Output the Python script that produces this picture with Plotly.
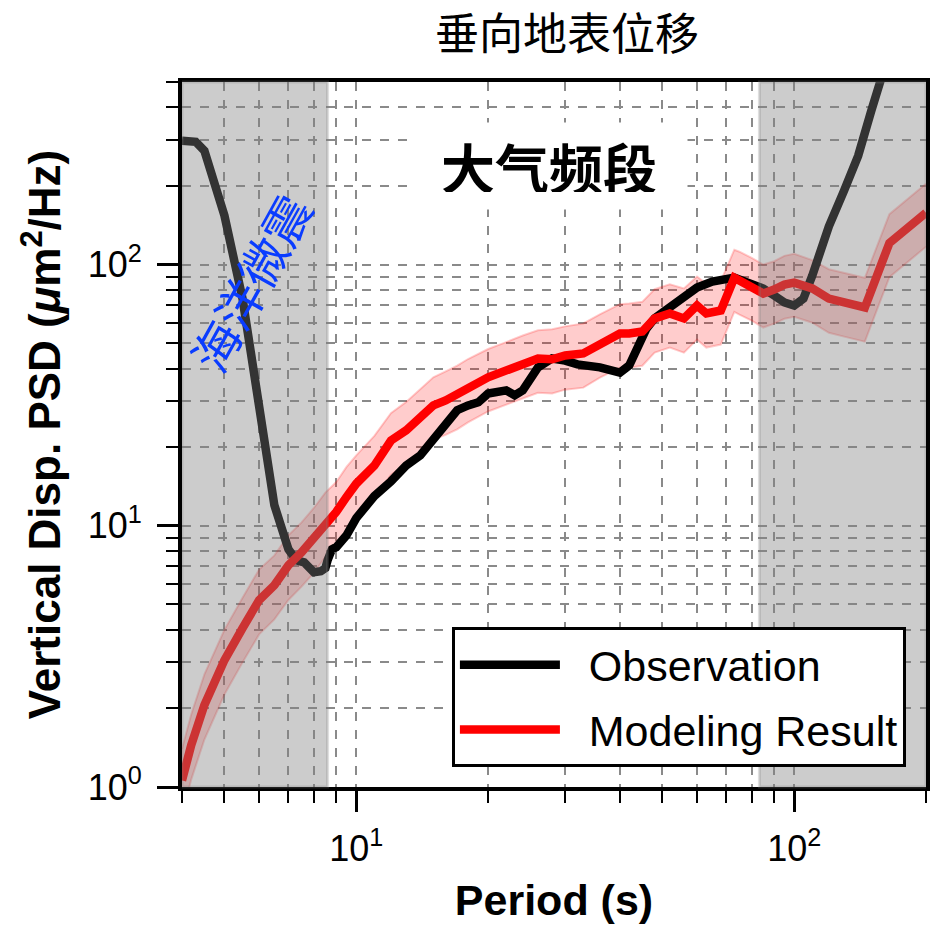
import numpy as np
import plotly.graph_objects as go

# ---------------- data ----------------
obs_period = [4, 4.3, 4.5, 4.7, 5, 5.5, 6, 6.5, 7, 7.3, 7.6, 8, 8.3, 8.5, 8.6, 8.8, 9, 9.5, 10,
              11, 12, 13, 14, 15, 16, 17, 18, 19, 20, 22, 23, 24, 26, 28, 30, 32, 36, 38, 40,
              42, 44, 46, 48, 50, 55, 60, 65, 70, 73, 77, 80, 85, 90, 95, 100, 105, 110, 120,
              130, 140, 150, 160]
obs_psd = [298, 295, 273, 219, 154, 74, 30.2, 12.0, 8.13, 7.38, 7.25, 6.64, 6.7, 6.88, 7.38, 8.13,
           8.28, 9.2, 10.7, 13.0, 14.8, 17.0, 18.6, 21.6, 24.2, 27.7, 28.9, 29.7, 32.1, 33.0,
           31.6, 33.0, 40.4, 43.7, 42.9, 41.5, 40.4, 39.3, 38.6, 41.1, 47.7, 56.9, 62.2, 65.5,
           74.8, 81.7, 86.1, 88.4, 89.2, 86.1, 83.8, 81.0, 76.1, 71.6, 69.7, 74.1, 90.8, 140,
           192, 261, 388, 552]

mod_period = [4, 4.2, 4.5, 5, 5.5, 6, 6.5, 7, 7.5, 8, 8.5, 9, 9.5, 10, 11, 12, 13, 14, 15, 16,
              17, 18, 20, 22, 24, 26, 28, 30, 33, 36, 40, 42, 45, 48, 52, 56, 60, 63, 68, 73,
              75, 80, 85, 90, 95, 100, 110, 120, 130, 145, 165, 200]
mod_psd = [1.06, 1.45, 2.06, 3.06, 4.06, 5.19, 5.92, 7.06, 7.92, 8.96, 10.3, 11.3, 12.9, 14.5,
           17.0, 21.2, 23.2, 25.8, 28.9, 30.2, 31.6, 33.6, 37.0, 39.3, 41.8, 43.7, 43.4, 44.9,
           45.7, 49.9, 54.5, 54.5, 55.4, 62.2, 65.0, 62.2, 69.7, 65.0, 66.7, 89.0, 86.9, 82.4,
           77.5, 80.2, 83.8, 85.3, 81.0, 74.1, 71.6, 68.5, 121, 158]
mod_upper = [1.4, 1.9, 2.7, 4.0, 5.3, 6.8, 7.7, 9.2, 10.3, 11.7, 13.4, 14.7, 16.8, 18.6, 22.1,
             27.0, 29.8, 33.2, 37.0, 39.0, 41.0, 43.5, 47.5, 50.5, 53.5, 56.0, 56.5, 58.0, 59.5,
             64.5, 70.5, 71.0, 72.0, 80.5, 84.0, 81.0, 90.0, 84.5, 86.5, 114, 112, 106, 100,
             103, 108, 110, 104, 96, 93, 89, 156, 204]
mod_lower = [0.78, 1.07, 1.52, 2.26, 3.0, 3.84, 4.38, 5.2, 5.85, 6.6, 7.6, 8.35, 9.5, 10.6,
             12.6, 15.7, 17.2, 19.1, 21.4, 22.3, 23.4, 24.9, 27.4, 29.1, 30.9, 32.3, 32.1, 33.2,
             33.8, 36.9, 40.3, 40.3, 41.0, 46.0, 48.1, 46.0, 51.6, 48.1, 49.4, 65.9, 64.3, 61.0,
             57.4, 59.4, 62.0, 63.1, 59.9, 54.8, 53.0, 50.7, 89.5, 117]

x_range = [4, 200]
y_range = [1, 500]
microseism_band = [4, 8.6]
long_period_band = [83.3, 200]

x_major = [10, 100]
x_major_text = ["10<sup>1</sup>", "10<sup>2</sup>"]
x_minor = [4, 5, 6, 7, 8, 9, 20, 30, 40, 50, 60, 70, 80, 90, 200]
y_major = [1, 10, 100]
y_major_text = ["10<sup>0</sup>", "10<sup>1</sup>", "10<sup>2</sup>"]
y_minor = [2, 3, 4, 5, 6, 7, 8, 9, 20, 30, 40, 50, 60, 70, 80, 90, 200, 300, 400, 500]

NB = "\u00a0\u00a0"

# ---------------- figure ----------------
fig = go.Figure()

fig.add_trace(go.Scatter(x=mod_period, y=mod_lower, mode="lines",
                         line=dict(color="rgba(255,0,0,0.2)", width=2),
                         showlegend=False, hoverinfo="skip", legendgroup="band"))
fig.add_trace(go.Scatter(x=mod_period, y=mod_upper, mode="lines",
                         line=dict(color="rgba(255,0,0,0.2)", width=2),
                         fill="tonexty", fillcolor="rgba(255,0,0,0.2)",
                         showlegend=False, hoverinfo="skip", legendgroup="band"))
fig.add_trace(go.Scatter(x=obs_period, y=obs_psd, mode="lines", name=NB + "Observation",
                         line=dict(color="black", width=8.5), legendrank=1, legendgroup="obs"))
fig.add_trace(go.Scatter(x=mod_period, y=mod_psd, mode="lines", name=NB + "Modeling Result",
                         line=dict(color="#ff0000", width=8.5), legendrank=2, legendgroup="mod"))

for band in (microseism_band, long_period_band):
    fig.add_shape(type="rect", xref="x", yref="paper", x0=band[0], x1=band[1], y0=0, y1=1,
                  fillcolor="rgba(128,128,128,0.4)", line=dict(width=3, color="rgba(128,128,128,0.25)"),
                  layer="above")

axis_common = dict(
    type="log", showline=True, linecolor="black", linewidth=4, mirror=True,
    ticks="outside", ticklen=21, tickwidth=3, tickcolor="black",
    showgrid=True, gridcolor="#8a8a8a", gridwidth=1.5, griddash="dash",
    tickfont=dict(family="Liberation Sans, Arial", size=36, color="black"),
    zeroline=False,
)

fig.update_xaxes(
    **axis_common,
    range=[np.log10(x_range[0]), np.log10(x_range[1])],
    tickmode="array", tickvals=x_major, ticktext=x_major_text,
    minor=dict(tickmode="array", tickvals=x_minor, ticks="outside", ticklen=12, tickwidth=2,
               tickcolor="black", showgrid=True, gridcolor="#8a8a8a", gridwidth=1.5,
               griddash="dash"),
    title=dict(text="<b>Period (s)</b>", standoff=18,
               font=dict(family="Liberation Sans, Arial", size=43, color="black")),
    ticklabelstandoff=6,
)
fig.update_yaxes(
    **axis_common,
    range=[np.log10(y_range[0]), np.log10(y_range[1])],
    tickmode="array", tickvals=y_major, ticktext=y_major_text,
    minor=dict(tickmode="array", tickvals=y_minor, ticks="outside", ticklen=12, tickwidth=2,
               tickcolor="black", showgrid=True, gridcolor="#8a8a8a", gridwidth=1.5,
               griddash="dash"),
    title=dict(text="<b>Vertical Disp. PSD (<i>μ</i>m<sup>2</sup>/Hz)</b>", standoff=14,
               font=dict(family="Liberation Sans, Arial", size=44, color="black")),
    ticklabelstandoff=8,
)

fig.add_annotation(x=np.log10(27.5), y=np.log10(239), xref="x", yref="y",
                   text="<b>大气频段</b>", showarrow=False,
                   font=dict(family="Noto Sans CJK SC", size=54, color="black"),
                   bgcolor="white", borderpad=17, width=242, height=52)
fig.add_annotation(x=np.log10(5.7), y=np.log10(86), xref="x", yref="y",
                   text="海洋微震", showarrow=False, textangle=-61,
                   font=dict(family="Noto Sans CJK SC", size=48, color="#0a3cff"))

fig.update_layout(
    width=939, height=932,
    margin=dict(l=182, r=9, t=82, b=145),
    paper_bgcolor="white", plot_bgcolor="white",
    title=dict(text="垂向地表位移", x=567 / 939, y=1 - 35 / 932, xref="container",
               yref="container", xanchor="center", yanchor="middle",
               font=dict(family="Noto Sans CJK SC", size=44, color="black")),
    legend=dict(x=0.973, y=0.028, xanchor="right", yanchor="bottom",
                bgcolor="white", bordercolor="black", borderwidth=3,
                font=dict(family="Liberation Sans, Arial", size=43, color="black"),
                itemwidth=100, traceorder="grouped", tracegroupgap=6),
    showlegend=True,
)

fig.write_html("out.html")
